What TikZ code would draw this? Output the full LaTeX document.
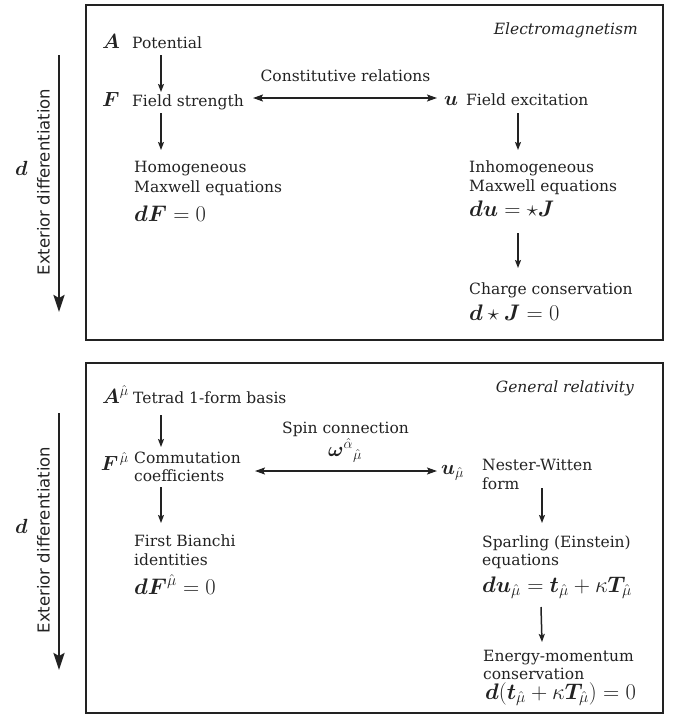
\RequirePackage{fix-cm}
\documentclass[tikz,border=0pt]{standalone}
\usepackage{amsmath}
\usepackage{bm}
\usepackage{fontspec}
\setmainfont{DejaVu Serif}
\setsansfont{DejaVu Sans}
\usetikzlibrary{arrows.meta,calc}
\definecolor{ink}{HTML}{222222}
\tikzset{
  txt/.style={font=\fontsize{15.5}{19}\selectfont, inner sep=0pt, anchor=base west},
  lab/.style={font=\fontsize{20.5}{23}\selectfont, inner sep=0pt},
  eqn/.style={font=\fontsize{22.5}{26}\selectfont, inner sep=0pt, anchor=base west},
  ttl/.style={font=\fontsize{15.5}{19}\selectfont\itshape, inner sep=0pt, anchor=base east},
  side/.style={font=\fontsize{16.5}{19}\selectfont\sffamily, rotate=90, inner sep=0pt},
  frame/.style={draw=ink, line width=2pt},
  arr/.style={draw=ink, line width=1.5pt, -{Stealth[length=8pt,width=6pt,inset=1.5pt]}},
  dbl/.style={draw=ink, line width=1.5pt, {Stealth[length=10pt,width=7pt,inset=2pt]}-{Stealth[length=10pt,width=7pt,inset=2pt]}},
  big/.style={draw=ink, line width=2.6pt, -{Stealth[length=17pt,width=11pt,inset=3pt]}},
}
\begin{document}
\begin{tikzpicture}[x=1pt,y=-1pt,color=ink]
\useasboundingbox (0,0) rectangle (678,715);
% ---------- Electromagnetism ----------
\draw[frame] (86,5) rectangle (663,340);
\node[ttl] (t1) at (638,34) {Electromagnetism};
\node[lab, anchor=base west] (A1) at (102,48) {$\bm{A}$};
\node[txt] (tA1) at (132,48) {Potential};
\node[lab, anchor=base west] (F1) at (102,106) {$\bm{F}$};
\node[txt] (tF1) at (132,106) {Field strength};
\node[txt, anchor=base] (cr) at (345.5,81) {Constitutive relations};
\node[lab, anchor=base west] (u1) at (444,105) {$\bm{u}$};
\node[txt] (tu1) at (466,105) {Field excitation};
\node[txt] (h1) at (134,172) {Homogeneous};
\node[txt] (h2) at (134,192) {Maxwell equations};
\node[eqn] (e1) at (134,221) {$\bm{dF}=0$};
\node[txt] (i1) at (469,172) {Inhomogeneous};
\node[txt] (i2) at (469,191) {Maxwell equations};
\node[eqn] (e2) at (469,216) {$\bm{du}=\star\bm{J}$};
\node[txt] (c1) at (469,294) {Charge conservation};
\node[eqn] (e3) at (469,320) {$\bm{d}\star\bm{J}=0$};
\draw[arr] ($(tA1.base west)+(29,7)$) -- ($(tF1.base west)+(29,-14)$);
\draw[arr] ($(tF1.base west)+(29,7)$) -- ($(h1.base west)+(27,-22)$);
\draw[dbl] ($(tF1.base west)+(121,-8)$) -- ($(u1.base west)+(-7,-7)$);
\draw[arr] ($(tu1.base west)+(52,8)$) -- ($(i1.base west)+(49,-22)$);
\draw[arr] ($(e2.base west)+(49,17)$) -- ($(c1.base west)+(49,-26)$);
\coordinate (L1s) at (59,55);
\coordinate (L1e) at (59,312);
\draw[big] (L1s) -- (L1e);
\node[lab, anchor=base west] (d1) at (15,175) {$\bm{d}$};
\node[side] (x1) at (43.5,182) {Exterior differentiation};
% ---------- General relativity ----------
\draw[frame] (86,363) rectangle (663,713);
\node[ttl] (t2) at (634,392) {General relativity};
\node[lab, anchor=base east] (A2) at (129,403) {$\bm{A}^{\hat\mu}$};
\node[txt] (tA2) at (133,403) {Tetrad 1-form basis};
\node[lab, anchor=base east] (F2) at (129,470) {$\bm{F}^{\mkern2mu\hat\mu}$};
\node[txt] (tF2a) at (134,463) {Commutation};
\node[txt] (tF2b) at (134,481) {coefficients};
\node[txt, anchor=base] (sc) at (345.5,433) {Spin connection};
\node[lab, anchor=base west] (om) at (328,456) {$\bm{\omega}^{\hat\alpha}{}_{\hat\mu}$};
\node[lab, anchor=base west] (u2) at (441,474) {$\bm{u}_{\hat\mu}$};
\node[txt] (n1) at (482,470) {Nester-Witten};
\node[txt] (n2) at (482,489) {form};
\node[txt] (s1) at (482,547) {Sparling (Einstein)};
\node[txt] (s2) at (482,565) {equations};
\node[eqn] (e5) at (482,592) {$\bm{du}_{\hat\mu}=\bm{t}_{\hat\mu}+\kappa\bm{T}_{\hat\mu}$};
\node[txt] (m1) at (483,661) {Energy-momentum};
\node[txt] (m2) at (483,679) {conservation};
\node[eqn] (e6) at (485,699) {$\bm{d}(\bm{t}_{\hat\mu}+\kappa\bm{T}_{\hat\mu})=0$};
\node[txt] (b1) at (134,546) {First Bianchi};
\node[txt] (b2) at (134,565) {identities};
\node[eqn] (e4) at (134,594) {$\bm{dF}^{\hat\mu}=0$};
\draw[arr] ($(tA2.base west)+(28,12)$) -- ($(tF2a.base west)+(27,-16)$);
\draw[arr] ($(tF2b.base west)+(27,6)$) -- ($(b1.base west)+(27,-23)$);
\draw[dbl] ($(tF2a.base west)+(121,8)$) -- ($(n1.base west)+(-45,1)$);
\draw[arr] ($(n2.base west)+(60,-1)$) -- ($(s1.base west)+(60,-24)$);
\draw[arr] ($(e5.base west)+(59,15)$) -- ($(m1.base west)+(59,-19)$);
\coordinate (L2s) at (59,413);
\coordinate (L2e) at (59,670);
\draw[big] (L2s) -- (L2e);
\node[lab, anchor=base west] (d2) at (15,533) {$\bm{d}$};
\node[side] (x2) at (43.5,540) {Exterior differentiation};
\end{tikzpicture}
\end{document}
